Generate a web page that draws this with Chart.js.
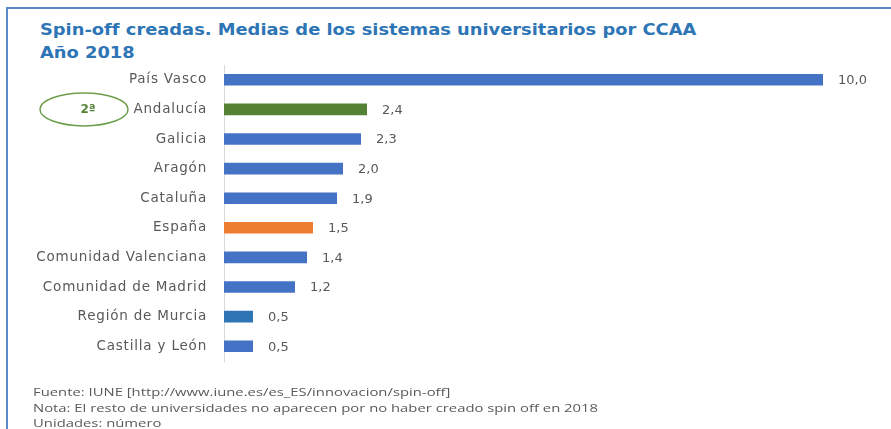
<!DOCTYPE html>
<html lang="es">
<head>
<meta charset="utf-8">
<title>Spin-off creadas por CCAA 2018</title>
<script src="https://cdn.jsdelivr.net/npm/chart.js@4/dist/chart.umd.min.js"></script>
<style>
  html, body { margin: 0; padding: 0; background: #fff; }
  #wrap { position: relative; width: 891px; height: 429px; overflow: hidden; }
  #frame { position: absolute; left: 6px; top: 7px; width: 900px; height: 440px;
           border-left: 2px solid #5B87CC; border-top: 2px solid #5B87CC; }
  #title { position: absolute; left: 40px; top: 18px; margin: 0; white-space: nowrap;
           font: bold 16px "DejaVu Sans", Verdana, sans-serif; color: #2E75B6; line-height: 23px;
           transform: scaleX(1.115); transform-origin: 0 0; }
  #notes { position: absolute; left: 33px; top: 385px; margin: 0; white-space: nowrap;
           font: 10.5px "Open Sans", "Liberation Sans", sans-serif; color: #595959; line-height: 15.5px;
           transform-origin: 0 0; }
  #notes span { display: block; }
  canvas { position: absolute; left: 0; top: 0; }
</style>
</head>
<body>
<div id="wrap">
  <div id="frame"></div>
  <h1 id="title">Spin-off creadas. Medias de los sistemas universitarios por CCAA<br>Año 2018</h1>
  <canvas id="c" width="891" height="429"></canvas>
  <div id="notes"><span>Fuente: IUNE [http://www.iune.es/es_ES/innovacion/spin-off]</span><span id="nota">Nota: El resto de universidades no aparecen por no haber creado spin off en 2018</span><span>Unidades: número</span></div>
</div>
<script>
// Comunidades autónomas y media de spin-off creadas por sistema universitario (2018)
const regions = ["País Vasco", "Andalucía", "Galicia", "Aragón", "Cataluña", "España",
                 "Comunidad Valenciana", "Comunidad de Madrid", "Región de Murcia", "Castilla y León"];
const spinOffs = [10.0, 2.4, 2.3, 2.0, 1.9, 1.5, 1.4, 1.2, 0.5, 0.5];
const barColors = ["#4472C4", "#548235", "#4472C4", "#4472C4", "#4472C4", "#ED7D31",
                   "#4472C4", "#4472C4", "#2E75B6", "#4472C4"];
const rankBadge = "2ª";
const rankIndex = 1;

const fmt = v => v.toFixed(1).replace(".", ",");

// Footnote block is stretched so the longest line spans 565px
(function () {
  const notes = document.getElementById("notes");
  const w = document.getElementById("nota").getBoundingClientRect().width;
  notes.style.transform = "scaleX(" + (565 / w) + ")";
})();

// Slightly wider letter spacing for the category labels
const labelSpacing = {
  id: "labelSpacing",
  beforeDraw(chart) { chart.ctx.letterSpacing = "0.8px"; }
};

// Value labels at the end of each bar
const valueLabels = {
  id: "valueLabels",
  afterDatasetsDraw(chart) {
    const ctx = chart.ctx;
    const meta = chart.getDatasetMeta(0);
    ctx.save();
    ctx.letterSpacing = "0px";
    ctx.font = "13px 'DejaVu Sans', Verdana, sans-serif";
    ctx.fillStyle = "#595959";
    ctx.textAlign = "left";
    ctx.textBaseline = "middle";
    meta.data.forEach((bar, i) => {
      ctx.fillText(fmt(spinOffs[i]), bar.x + 14, bar.y + 1);
    });
    ctx.restore();
  }
};

// Green oval badge beside the highlighted region
const badge = {
  id: "badge",
  afterDraw(chart) {
    const ctx = chart.ctx;
    const y = chart.scales.y.getPixelForValue(rankIndex);
    ctx.save();
    ctx.letterSpacing = "0px";
    ctx.beginPath();
    ctx.ellipse(84, y, 44, 16.5, 0, 0, Math.PI * 2);
    ctx.strokeStyle = "#6E9E4B";
    ctx.lineWidth = 1.5;
    ctx.stroke();
    ctx.font = "bold 12px 'DejaVu Sans', Verdana, sans-serif";
    ctx.fillStyle = "#548235";
    ctx.textAlign = "center";
    ctx.textBaseline = "middle";
    ctx.fillText(rankBadge, 88, y);
    ctx.restore();
  }
};

new Chart(document.getElementById("c"), {
  type: "bar",
  data: {
    labels: regions,
    datasets: [{
      data: spinOffs,
      backgroundColor: barColors,
      borderColor: "rgba(255,255,255,0.3)",
      borderWidth: 1,
      categoryPercentage: 1,
      barPercentage: 0.46
    }]
  },
  options: {
    indexAxis: "y",
    responsive: false,
    animation: false,
    layout: { padding: { left: 0, right: 67, top: 65, bottom: 68 } },
    plugins: { legend: { display: false }, tooltip: { enabled: false } },
    scales: {
      x: { display: false, min: 0, max: 10 },
      y: {
        grid: { display: false, drawTicks: false },
        border: { display: true, color: "#D9D9D9", width: 1 },
        ticks: {
          padding: 17,
          color: "#595959",
          font: { family: "'DejaVu Sans', Verdana, sans-serif", size: 13.5 }
        },
        afterFit(scale) { scale.width = 224; }
      }
    }
  },
  plugins: [labelSpacing, valueLabels, badge]
});
</script>
</body>
</html>
